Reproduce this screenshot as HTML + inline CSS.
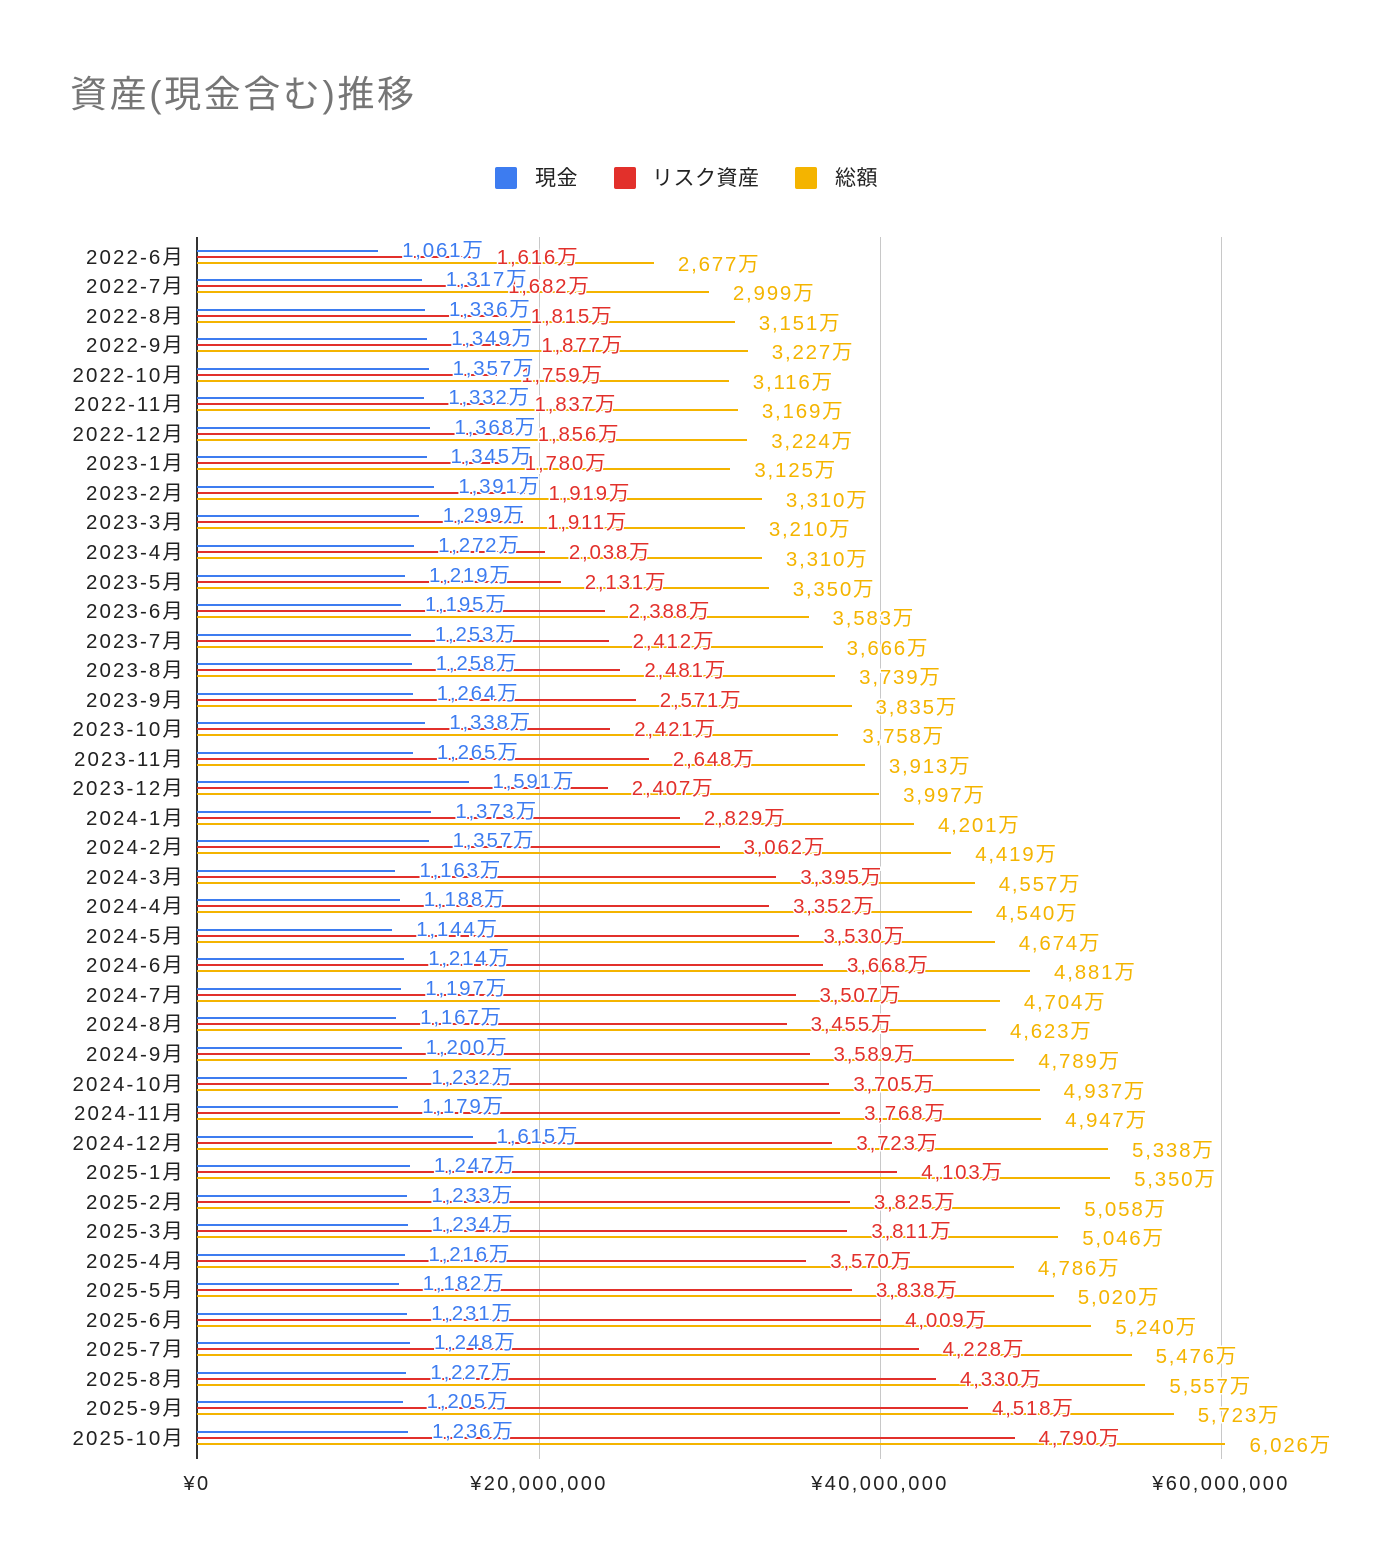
<!DOCTYPE html>
<html><head><meta charset="utf-8"><style>
*{margin:0;padding:0}
body{width:1376px;height:1566px;background:#fff;position:relative;overflow:hidden;font-family:"Liberation Sans","Noto Sans CJK JP",sans-serif}
.t{position:absolute;left:70px;top:64px;font-size:37px;color:#757575;letter-spacing:2.6px}
.lg{position:absolute;top:166px;font-size:21px;color:#222;line-height:26px;letter-spacing:.5px}
.sq{position:absolute;top:167px;width:22px;height:22px;border-radius:2px}
.g{position:absolute;top:237px;height:1222px;width:1px;background:#c8c8c8}
.ax{position:absolute;left:196px;top:237px;height:1222px;width:2px;background:#333}
.xl{position:absolute;top:1473px;font-size:20px;color:#222;width:240px;text-align:center;margin-left:-120px;letter-spacing:2.4px}
.r{position:absolute;left:0;top:calc(256.7px + 29.53px * var(--i));height:0;width:1376px}
.l{position:absolute;right:1191px;top:-17px;font-size:20.5px;color:#222;white-space:nowrap;letter-spacing:2.1px}
.r i{position:absolute;left:197px;height:2px}
.ba{top:-7px;width:calc(var(--a) * .17067px);background:#3d7cf0}
.bb{top:-1px;width:calc(var(--b) * .17067px);background:#e2302b}
.bc{top:5px;width:calc(var(--c) * .17067px);background:#f4b400}
.r em{position:absolute;font-style:normal;font-size:20.5px;white-space:nowrap;-webkit-text-stroke:3px #fff;paint-order:stroke fill;line-height:24px;letter-spacing:1.8px}
.ta{left:calc(221px + var(--a) * .17067px);top:-18px;color:#3d7cf0}
.tb{left:calc(221px + var(--b) * .17067px);top:-11px;color:#e2302b}
.tc{left:calc(221px + var(--c) * .17067px);top:-4px;color:#f4b400}
</style></head><body>
<div class="t">資産(現金含む)推移</div>
<div class="sq" style="left:495px;background:#3d7cf0"></div><div class="lg" style="left:535px">現金</div>
<div class="sq" style="left:614px;background:#e2302b"></div><div class="lg" style="left:652px">リスク資産</div>
<div class="sq" style="left:795px;background:#f4b400"></div><div class="lg" style="left:835px">総額</div>
<div class="g" style="left:539px"></div><div class="g" style="left:880px"></div><div class="g" style="left:1221px"></div>
<div class="ax"></div>
<div class="xl" style="left:197px">¥0</div><div class="xl" style="left:539px">¥20,000,000</div><div class="xl" style="left:880px">¥40,000,000</div><div class="xl" style="left:1221px">¥60,000,000</div>

<div class="r" style="--i:0;--a:1061;--b:1616;--c:2677"><span class="l">2022-6月</span><i class="ba"></i><i class="bb"></i><i class="bc"></i><em class="tc">2,677万</em><em class="tb">1,616万</em><em class="ta">1,061万</em></div>
<div class="r" style="--i:1;--a:1317;--b:1682;--c:2999"><span class="l">2022-7月</span><i class="ba"></i><i class="bb"></i><i class="bc"></i><em class="tc">2,999万</em><em class="tb">1,682万</em><em class="ta">1,317万</em></div>
<div class="r" style="--i:2;--a:1336;--b:1815;--c:3151"><span class="l">2022-8月</span><i class="ba"></i><i class="bb"></i><i class="bc"></i><em class="tc">3,151万</em><em class="tb">1,815万</em><em class="ta">1,336万</em></div>
<div class="r" style="--i:3;--a:1349;--b:1877;--c:3227"><span class="l">2022-9月</span><i class="ba"></i><i class="bb"></i><i class="bc"></i><em class="tc">3,227万</em><em class="tb">1,877万</em><em class="ta">1,349万</em></div>
<div class="r" style="--i:4;--a:1357;--b:1759;--c:3116"><span class="l">2022-10月</span><i class="ba"></i><i class="bb"></i><i class="bc"></i><em class="tc">3,116万</em><em class="tb">1,759万</em><em class="ta">1,357万</em></div>
<div class="r" style="--i:5;--a:1332;--b:1837;--c:3169"><span class="l">2022-11月</span><i class="ba"></i><i class="bb"></i><i class="bc"></i><em class="tc">3,169万</em><em class="tb">1,837万</em><em class="ta">1,332万</em></div>
<div class="r" style="--i:6;--a:1368;--b:1856;--c:3224"><span class="l">2022-12月</span><i class="ba"></i><i class="bb"></i><i class="bc"></i><em class="tc">3,224万</em><em class="tb">1,856万</em><em class="ta">1,368万</em></div>
<div class="r" style="--i:7;--a:1345;--b:1780;--c:3125"><span class="l">2023-1月</span><i class="ba"></i><i class="bb"></i><i class="bc"></i><em class="tc">3,125万</em><em class="tb">1,780万</em><em class="ta">1,345万</em></div>
<div class="r" style="--i:8;--a:1391;--b:1919;--c:3310"><span class="l">2023-2月</span><i class="ba"></i><i class="bb"></i><i class="bc"></i><em class="tc">3,310万</em><em class="tb">1,919万</em><em class="ta">1,391万</em></div>
<div class="r" style="--i:9;--a:1299;--b:1911;--c:3210"><span class="l">2023-3月</span><i class="ba"></i><i class="bb"></i><i class="bc"></i><em class="tc">3,210万</em><em class="tb">1,911万</em><em class="ta">1,299万</em></div>
<div class="r" style="--i:10;--a:1272;--b:2038;--c:3310"><span class="l">2023-4月</span><i class="ba"></i><i class="bb"></i><i class="bc"></i><em class="tc">3,310万</em><em class="tb">2,038万</em><em class="ta">1,272万</em></div>
<div class="r" style="--i:11;--a:1219;--b:2131;--c:3350"><span class="l">2023-5月</span><i class="ba"></i><i class="bb"></i><i class="bc"></i><em class="tc">3,350万</em><em class="tb">2,131万</em><em class="ta">1,219万</em></div>
<div class="r" style="--i:12;--a:1195;--b:2388;--c:3583"><span class="l">2023-6月</span><i class="ba"></i><i class="bb"></i><i class="bc"></i><em class="tc">3,583万</em><em class="tb">2,388万</em><em class="ta">1,195万</em></div>
<div class="r" style="--i:13;--a:1253;--b:2412;--c:3666"><span class="l">2023-7月</span><i class="ba"></i><i class="bb"></i><i class="bc"></i><em class="tc">3,666万</em><em class="tb">2,412万</em><em class="ta">1,253万</em></div>
<div class="r" style="--i:14;--a:1258;--b:2481;--c:3739"><span class="l">2023-8月</span><i class="ba"></i><i class="bb"></i><i class="bc"></i><em class="tc">3,739万</em><em class="tb">2,481万</em><em class="ta">1,258万</em></div>
<div class="r" style="--i:15;--a:1264;--b:2571;--c:3835"><span class="l">2023-9月</span><i class="ba"></i><i class="bb"></i><i class="bc"></i><em class="tc">3,835万</em><em class="tb">2,571万</em><em class="ta">1,264万</em></div>
<div class="r" style="--i:16;--a:1338;--b:2421;--c:3758"><span class="l">2023-10月</span><i class="ba"></i><i class="bb"></i><i class="bc"></i><em class="tc">3,758万</em><em class="tb">2,421万</em><em class="ta">1,338万</em></div>
<div class="r" style="--i:17;--a:1265;--b:2648;--c:3913"><span class="l">2023-11月</span><i class="ba"></i><i class="bb"></i><i class="bc"></i><em class="tc">3,913万</em><em class="tb">2,648万</em><em class="ta">1,265万</em></div>
<div class="r" style="--i:18;--a:1591;--b:2407;--c:3997"><span class="l">2023-12月</span><i class="ba"></i><i class="bb"></i><i class="bc"></i><em class="tc">3,997万</em><em class="tb">2,407万</em><em class="ta">1,591万</em></div>
<div class="r" style="--i:19;--a:1373;--b:2829;--c:4201"><span class="l">2024-1月</span><i class="ba"></i><i class="bb"></i><i class="bc"></i><em class="tc">4,201万</em><em class="tb">2,829万</em><em class="ta">1,373万</em></div>
<div class="r" style="--i:20;--a:1357;--b:3062;--c:4419"><span class="l">2024-2月</span><i class="ba"></i><i class="bb"></i><i class="bc"></i><em class="tc">4,419万</em><em class="tb">3,062万</em><em class="ta">1,357万</em></div>
<div class="r" style="--i:21;--a:1163;--b:3395;--c:4557"><span class="l">2024-3月</span><i class="ba"></i><i class="bb"></i><i class="bc"></i><em class="tc">4,557万</em><em class="tb">3,395万</em><em class="ta">1,163万</em></div>
<div class="r" style="--i:22;--a:1188;--b:3352;--c:4540"><span class="l">2024-4月</span><i class="ba"></i><i class="bb"></i><i class="bc"></i><em class="tc">4,540万</em><em class="tb">3,352万</em><em class="ta">1,188万</em></div>
<div class="r" style="--i:23;--a:1144;--b:3530;--c:4674"><span class="l">2024-5月</span><i class="ba"></i><i class="bb"></i><i class="bc"></i><em class="tc">4,674万</em><em class="tb">3,530万</em><em class="ta">1,144万</em></div>
<div class="r" style="--i:24;--a:1214;--b:3668;--c:4881"><span class="l">2024-6月</span><i class="ba"></i><i class="bb"></i><i class="bc"></i><em class="tc">4,881万</em><em class="tb">3,668万</em><em class="ta">1,214万</em></div>
<div class="r" style="--i:25;--a:1197;--b:3507;--c:4704"><span class="l">2024-7月</span><i class="ba"></i><i class="bb"></i><i class="bc"></i><em class="tc">4,704万</em><em class="tb">3,507万</em><em class="ta">1,197万</em></div>
<div class="r" style="--i:26;--a:1167;--b:3455;--c:4623"><span class="l">2024-8月</span><i class="ba"></i><i class="bb"></i><i class="bc"></i><em class="tc">4,623万</em><em class="tb">3,455万</em><em class="ta">1,167万</em></div>
<div class="r" style="--i:27;--a:1200;--b:3589;--c:4789"><span class="l">2024-9月</span><i class="ba"></i><i class="bb"></i><i class="bc"></i><em class="tc">4,789万</em><em class="tb">3,589万</em><em class="ta">1,200万</em></div>
<div class="r" style="--i:28;--a:1232;--b:3705;--c:4937"><span class="l">2024-10月</span><i class="ba"></i><i class="bb"></i><i class="bc"></i><em class="tc">4,937万</em><em class="tb">3,705万</em><em class="ta">1,232万</em></div>
<div class="r" style="--i:29;--a:1179;--b:3768;--c:4947"><span class="l">2024-11月</span><i class="ba"></i><i class="bb"></i><i class="bc"></i><em class="tc">4,947万</em><em class="tb">3,768万</em><em class="ta">1,179万</em></div>
<div class="r" style="--i:30;--a:1615;--b:3723;--c:5338"><span class="l">2024-12月</span><i class="ba"></i><i class="bb"></i><i class="bc"></i><em class="tc">5,338万</em><em class="tb">3,723万</em><em class="ta">1,615万</em></div>
<div class="r" style="--i:31;--a:1247;--b:4103;--c:5350"><span class="l">2025-1月</span><i class="ba"></i><i class="bb"></i><i class="bc"></i><em class="tc">5,350万</em><em class="tb">4,103万</em><em class="ta">1,247万</em></div>
<div class="r" style="--i:32;--a:1233;--b:3825;--c:5058"><span class="l">2025-2月</span><i class="ba"></i><i class="bb"></i><i class="bc"></i><em class="tc">5,058万</em><em class="tb">3,825万</em><em class="ta">1,233万</em></div>
<div class="r" style="--i:33;--a:1234;--b:3811;--c:5046"><span class="l">2025-3月</span><i class="ba"></i><i class="bb"></i><i class="bc"></i><em class="tc">5,046万</em><em class="tb">3,811万</em><em class="ta">1,234万</em></div>
<div class="r" style="--i:34;--a:1216;--b:3570;--c:4786"><span class="l">2025-4月</span><i class="ba"></i><i class="bb"></i><i class="bc"></i><em class="tc">4,786万</em><em class="tb">3,570万</em><em class="ta">1,216万</em></div>
<div class="r" style="--i:35;--a:1182;--b:3838;--c:5020"><span class="l">2025-5月</span><i class="ba"></i><i class="bb"></i><i class="bc"></i><em class="tc">5,020万</em><em class="tb">3,838万</em><em class="ta">1,182万</em></div>
<div class="r" style="--i:36;--a:1231;--b:4009;--c:5240"><span class="l">2025-6月</span><i class="ba"></i><i class="bb"></i><i class="bc"></i><em class="tc">5,240万</em><em class="tb">4,009万</em><em class="ta">1,231万</em></div>
<div class="r" style="--i:37;--a:1248;--b:4228;--c:5476"><span class="l">2025-7月</span><i class="ba"></i><i class="bb"></i><i class="bc"></i><em class="tc">5,476万</em><em class="tb">4,228万</em><em class="ta">1,248万</em></div>
<div class="r" style="--i:38;--a:1227;--b:4330;--c:5557"><span class="l">2025-8月</span><i class="ba"></i><i class="bb"></i><i class="bc"></i><em class="tc">5,557万</em><em class="tb">4,330万</em><em class="ta">1,227万</em></div>
<div class="r" style="--i:39;--a:1205;--b:4518;--c:5723"><span class="l">2025-9月</span><i class="ba"></i><i class="bb"></i><i class="bc"></i><em class="tc">5,723万</em><em class="tb">4,518万</em><em class="ta">1,205万</em></div>
<div class="r" style="--i:40;--a:1236;--b:4790;--c:6026"><span class="l">2025-10月</span><i class="ba"></i><i class="bb"></i><i class="bc"></i><em class="tc">6,026万</em><em class="tb">4,790万</em><em class="ta">1,236万</em></div>
</body></html>
